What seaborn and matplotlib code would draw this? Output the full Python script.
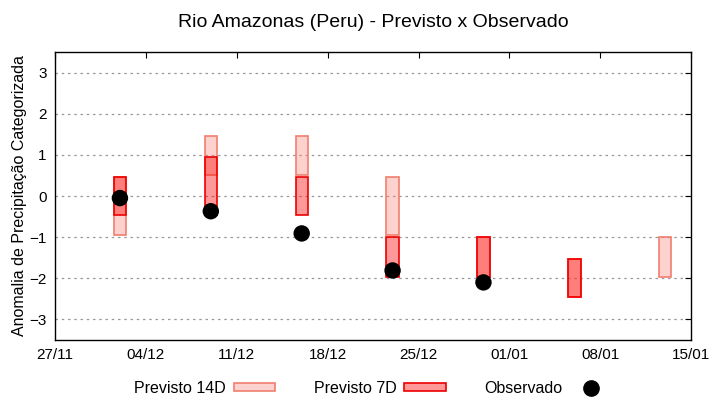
import numpy as np
import pandas as pd
import matplotlib
matplotlib.use("Agg")
import matplotlib.pyplot as plt
import matplotlib.dates as mdates
from matplotlib.patches import Patch
from matplotlib.lines import Line2D
import seaborn as sns

# previsões (faixas de anomalia categorizada)
datas_14d = ['2023-12-02', '2023-12-09', '2023-12-16', '2023-12-23', '2023-12-30', '2024-01-06', '2024-01-13']
p14_min = [-0.95, 0.5, 0.5, -0.95, -1.97, -2.45, -1.97]
p14_max = [0.45, 1.45, 1.45, 0.45, -1.0, -1.52, -1.0]

datas_7d = ['2023-12-02', '2023-12-09', '2023-12-16', '2023-12-23', '2023-12-30', '2024-01-06']
p7_min = [-0.45, -0.45, -0.45, -1.97, -1.97, -2.45]
p7_max = [0.45, 0.95, 0.45, -1.0, -1.0, -1.52]

datas_obs = ['2023-12-02', '2023-12-09', '2023-12-16', '2023-12-23', '2023-12-30']
observado = [-0.05, -0.37, -0.91, -1.81, -2.1]

df14 = pd.DataFrame({'data': pd.to_datetime(datas_14d), 'min': p14_min, 'max': p14_max})
df7 = pd.DataFrame({'data': pd.to_datetime(datas_7d), 'min': p7_min, 'max': p7_max})
dfo = pd.DataFrame({'data': pd.to_datetime(datas_obs), 'obs': observado})

sns.set_style("white")
plt.rcParams['font.family'] = ['Liberation Sans', 'DejaVu Sans']
plt.rcParams['text.color'] = 'black'
plt.rcParams['axes.labelcolor'] = 'black'

fig = plt.figure(figsize=(7.2, 4), dpi=100)
ax = fig.add_axes([0.0764, 0.15, 0.8836, 0.72])

cor14 = (0.98, 0.50, 0.45, 0.35)
cor7 = (1.0, 0.0, 0.0, 0.4)

ax.bar(df14['data'], df14['max'] - df14['min'], bottom=df14['min'], width=0.95,
       color=cor14, edgecolor='#f07e6e', linewidth=1.2, zorder=2)
ax.bar(df7['data'], df7['max'] - df7['min'], bottom=df7['min'], width=0.95,
       color=cor7, edgecolor='#ee0000', linewidth=1.2, zorder=3)
sns.scatterplot(data=dfo, x='data', y='obs', ax=ax, color='black', s=140,
                edgecolor='none', zorder=4, legend=False)

ax.set_xlim(pd.Timestamp('2023-11-27'), pd.Timestamp('2024-01-15'))
ax.set_ylim(-3.5, 3.5)
ax.set_yticks([-3, -2, -1, 0, 1, 2, 3])
ax.set_xticks(pd.date_range('2023-11-27', '2024-01-15', freq='7D'))
ax.xaxis.set_major_formatter(mdates.DateFormatter('%d/%m'))

ax.yaxis.grid(True, color='#999999', linestyle=(0, (2, 3)), linewidth=0.9)
ax.xaxis.grid(False)
for s in ax.spines.values():
    s.set_color('black')
    s.set_linewidth(1.0)
ax.tick_params(direction='in', top=True, right=True, length=4, width=0.8,
               labelsize=11, pad=6, colors='black')

ax.set_xlabel('')
ax.set_ylabel('Anomalia de Precipitação Categorizada', fontsize=11.5)
ax.yaxis.set_label_coords(-0.044, 0.5)
ax.set_title('Rio Amazonas (Peru) - Previsto x Observado', fontsize=14, pad=18, color='black')

handles = [
    Patch(facecolor=cor14, edgecolor='#f07e6e', linewidth=1.2),
    Patch(facecolor=cor7, edgecolor='#ee0000', linewidth=1.2),
    Line2D([], [], marker='o', color='black', linestyle='none', markersize=11),
]
fig.legend(handles, ['Previsto 14D', 'Previsto 7D', 'Observado'], loc='lower center',
           bbox_to_anchor=(0.518, -0.025), ncol=3, frameon=False, markerfirst=False,
           fontsize=11.5, handlelength=2.6, handleheight=0.45, columnspacing=2.4,
           handletextpad=0.5)

fig.savefig('out.png', dpi=100)
